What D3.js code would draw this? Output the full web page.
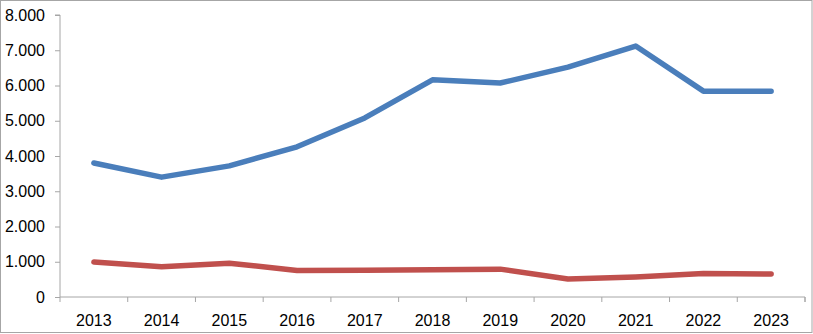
<!DOCTYPE html>
<html>
<head>
<meta charset="utf-8">
<script src="https://cdn.jsdelivr.net/npm/d3@7"></script>
<style>
html,body{margin:0;padding:0;background:#fff;}
svg{display:block;}
text{font-family:"Liberation Sans",Arial,sans-serif;}
</style>
</head>
<body>
<svg id="chart" width="813" height="334"></svg>
<script>
const years = ["2013","2014","2015","2016","2017","2018","2019","2020","2021","2022","2023"];
const seriesBlue = [3800,3400,3720,4260,5080,6160,6070,6520,7120,5840,5840];
const seriesRed = [990,860,960,750,760,770,790,510,570,670,650];
const yTicks = [0,1000,2000,3000,4000,5000,6000,7000,8000];
const yTickLabels = ["0","1.000","2.000","3.000","4.000","5.000","6.000","7.000","8.000"];

(function(){
const W = 813, H = 334;
const svg = d3.select("#chart");
const mLeft = 60, mRight = 805, mTop = 15, mBottom = 297;

svg.append("rect").attr("x",0.5).attr("y",0.5).attr("width",W-1.5).attr("height",332)
  .attr("fill","#fff").attr("stroke","#a6a6a6").attr("stroke-width",1);

const x = d3.scaleBand().domain(years).range([mLeft,mRight]).padding(0);
const y = d3.scaleLinear().domain([0,8000]).range([mBottom,mTop]);

const yAxis = d3.axisLeft(y).tickValues(yTicks).tickSize(5).tickPadding(10)
  .tickFormat((d,i)=>yTickLabels[i]);
const gy = svg.append("g").attr("transform",`translate(${mLeft},0)`).call(yAxis);
gy.select(".domain").attr("stroke","#a6a6a6").attr("d",`M-5,${mTop}H0V${mBottom}`);
gy.selectAll(".tick line").attr("stroke","#a6a6a6");
gy.selectAll(".tick text").attr("font-size",16).attr("fill","#000")
  .attr("font-family","Liberation Sans, Arial, sans-serif");

const xAxis = d3.axisBottom(x).tickSize(0).tickPadding(18);
const gx = svg.append("g").attr("transform",`translate(0,${mBottom})`).call(xAxis);
gx.select(".domain").attr("stroke","#a6a6a6").attr("d",`M${mLeft},0H${mRight}V5`);
gx.selectAll(".tick text").attr("font-size",16).attr("fill","#000")
  .attr("font-family","Liberation Sans, Arial, sans-serif");
const bounds = years.map(d=>x(d)).concat([mRight]);
gx.selectAll(".bt").data(bounds).enter().append("line")
  .attr("x1",d=>d).attr("x2",d=>d).attr("y1",0).attr("y2",5)
  .attr("stroke","#a6a6a6");

const line = d3.line().x((d,i)=>x(years[i])+x.bandwidth()/2).y(d=>y(d));
svg.append("path").datum(seriesRed).attr("d",line).attr("fill","none")
  .attr("stroke","#c0504d").attr("stroke-width",5.5).attr("stroke-linecap","round").attr("stroke-linejoin","round");
svg.append("path").datum(seriesBlue).attr("d",line).attr("fill","none")
  .attr("stroke","#4a7ebb").attr("stroke-width",5.5).attr("stroke-linecap","round").attr("stroke-linejoin","round");
})();
</script>
</body>
</html>
